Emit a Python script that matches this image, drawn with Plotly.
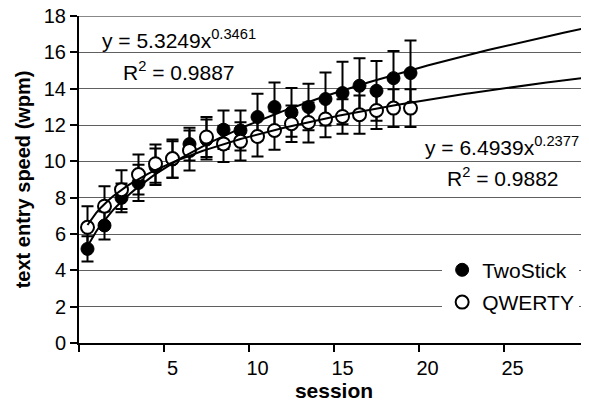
import plotly.graph_objects as go

sessions = list(range(1, 21))
twostick = [5.18, 6.47, 7.99, 8.81, 9.7, 10.1, 10.95, 11.2, 11.74, 11.7,
            12.44, 12.99, 12.69, 12.99, 13.43, 13.76, 14.16, 13.88, 14.58, 14.86]
twostick_err = [0.69, 0.77, 0.79, 1.0, 1.0, 1.0, 0.9, 1.1, 1.06, 1.1,
                1.28, 1.35, 1.34, 1.28, 1.46, 1.72, 1.52, 1.64, 1.5, 1.79]
qwerty = [6.37, 7.53, 8.44, 9.27, 9.87, 10.15, 10.6, 11.34, 10.96, 11.1,
          11.37, 11.7, 12.07, 12.14, 12.33, 12.47, 12.57, 12.8, 12.93, 12.93]
qwerty_err = [1.16, 1.1, 1.07, 1.1, 1.05, 1.05, 1.1, 1.1, 1.0, 1.05,
              1.1, 1.06, 1.0, 1.1, 1.0, 0.95, 1.05, 1.02, 1.04, 1.04]

# power trendlines as reported on the chart
ts_a, ts_b = 5.3249, 0.3461
qw_a, qw_b = 6.4939, 0.2377
trend_x = [1 + i * 0.25 for i in range(119)]  # 1 .. 30.5

# Excel category axis: labels sit on category centres, tick marks between categories
xtick_vals = [6, 11, 16, 21, 26]
xtick_text = ["5", "10", "15", "20", "25"]
xminor_vals = [0.5, 5.5, 10.5, 15.5, 20.5, 25.5, 30.5]

# the page body has an 8px margin, so the figure is drawn 8px in from the corner
OFF = 8
W, H = 589 - OFF, 407 - OFF
L, R, T = 78.5 - OFF, 0, 16 - OFF
B = H - (343.5 - OFF)
PW, PH = W - L - R, H - T - B


def px(x):
    return (x - OFF - L) / PW


def py(y):
    return (H - B - (y - OFF)) / PH


FONT = "Arial, Liberation Sans, sans-serif"
fig = go.Figure()

fig.add_trace(go.Scatter(
    x=sessions, y=twostick, mode="markers", name="TwoStick",
    marker=dict(symbol="circle", size=13, color="black", line=dict(color="black", width=1)),
    error_y=dict(type="data", array=twostick_err, color="black", thickness=2, width=6),
    legendgroup="a",
))
fig.add_trace(go.Scatter(
    x=sessions, y=qwerty, mode="markers", name="QWERTY",
    marker=dict(symbol="circle", size=13, color="white", line=dict(color="black", width=2)),
    error_y=dict(type="data", array=qwerty_err, color="black", thickness=2, width=6),
    legendgroup="b",
))
fig.add_trace(go.Scatter(
    x=trend_x, y=[ts_a * x ** ts_b for x in trend_x], mode="lines",
    line=dict(color="black", width=2), showlegend=False, hoverinfo="skip",
))
fig.add_trace(go.Scatter(
    x=trend_x, y=[qw_a * x ** qw_b for x in trend_x], mode="lines",
    line=dict(color="black", width=2), showlegend=False, hoverinfo="skip",
))

fig.update_layout(
    width=W, height=H,
    margin=dict(l=L, r=R, t=T, b=B, autoexpand=False),
    paper_bgcolor="white", plot_bgcolor="white",
    font=dict(family=FONT, size=20, color="black"),
    showlegend=True,
    legend=dict(x=px(442), y=py(250), xanchor="left", yanchor="top",
                bgcolor="white", font=dict(size=21), tracegroupgap=2,
                itemsizing="trace"),
    xaxis=dict(
        range=[0.5, 30.5], tickmode="array", tickvals=xtick_vals, ticktext=xtick_text,
        ticks="", showgrid=False, zeroline=False, automargin=False,
        showline=True, linecolor="black", linewidth=2,
        tickfont=dict(size=20), ticklabelstandoff=6,
        minor=dict(tickmode="array", tickvals=xminor_vals,
                   ticks="outside", ticklen=7, tickcolor="black", tickwidth=1.5, showgrid=False),
        title=dict(text="<b>session</b>", font=dict(size=21), standoff=4),
    ),
    yaxis=dict(
        range=[0, 18], dtick=2, tick0=0, ticks="outside", ticklen=7,
        tickcolor="black", tickwidth=1.5, automargin=False,
        showgrid=True, gridcolor="#606060", gridwidth=1, zeroline=False,
        showline=True, linecolor="black", linewidth=2,
        tickfont=dict(size=20), ticklabeloverflow="allow",
    ),
    shapes=[
        dict(type="line", xref="paper", yref="y", x0=0, x1=1, y0=18, y1=18,
             line=dict(color="#606060", width=1.5)),
    ],
    annotations=[
        dict(x=px(22), y=py(180), xref="paper", yref="paper", xanchor="center", yanchor="middle",
             text="<b>text entry speed (wpm)</b>", textangle=-90, showarrow=False,
             font=dict(size=20)),
        dict(x=px(100), y=py(39), xref="paper", yref="paper", xanchor="left", yanchor="middle",
             text="y = 5.3249x<sup>0.3461</sup>", showarrow=False, font=dict(size=21)),
        dict(x=px(121), y=py(71), xref="paper", yref="paper", xanchor="left", yanchor="middle",
             text="R<sup>2</sup> = 0.9887", showarrow=False, font=dict(size=21)),
        dict(x=px(423), y=py(146), xref="paper", yref="paper", xanchor="left", yanchor="middle",
             text="y = 6.4939x<sup>0.2377</sup>", showarrow=False, font=dict(size=21)),
        dict(x=px(445), y=py(177), xref="paper", yref="paper", xanchor="left", yanchor="middle",
             text="R<sup>2</sup> = 0.9882", showarrow=False, font=dict(size=21)),
    ],
)

fig.write_html("out.html")
